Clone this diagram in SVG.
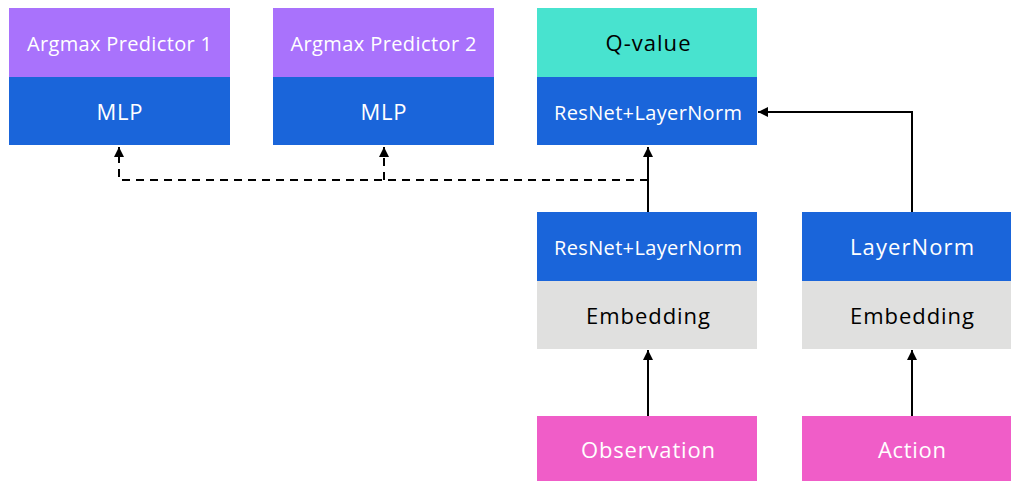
<svg xmlns="http://www.w3.org/2000/svg" width="1011" height="481" viewBox="0 0 1011 481">
<defs>
<marker id="ah" viewBox="0 0 10 10" refX="10" refY="5" markerWidth="10" markerHeight="10" markerUnits="userSpaceOnUse" orient="auto">
<path d="M0,0 L10,5 L0,10 z" fill="#000"/>
</marker>
<style>
.p{fill:#A972FC}.b{fill:#1A65DA}.t{fill:#48E3CF}.g{fill:#E0E0DF}.k{fill:#F05DC8}
text{font-family:"Open Sans","Noto Sans",sans-serif;font-size:20px;text-anchor:middle}
.L{font-size:22px}
.w{fill:#fff}.d{fill:#000}
.c{stroke:#000;stroke-width:2;fill:none}
.dash{stroke-dasharray:8,6}
</style>
</defs>
<rect width="1011" height="481" fill="#fff"/>
<g id="pred1">
<rect class="p" x="9" y="8" width="221" height="69"/>
<rect class="b" x="9" y="77" width="221" height="68"/>
<text class="w" x="119.5" y="51" textLength="185">Argmax Predictor 1</text>
<text class="w L" x="119.5" y="120" textLength="46">MLP</text>
</g>
<g id="pred2">
<rect class="p" x="273" y="8" width="221" height="69"/>
<rect class="b" x="273" y="77" width="221" height="68"/>
<text class="w" x="383.5" y="51" textLength="186">Argmax Predictor 2</text>
<text class="w L" x="383.5" y="120" textLength="46">MLP</text>
</g>
<g id="qvalue">
<rect class="t" x="537" y="8" width="220" height="69"/>
<rect class="b" x="537" y="77" width="220" height="68"/>
<text class="d L" x="648" y="51" textLength="85">Q-value</text>
<text class="w" x="648" y="120" textLength="188">ResNet+LayerNorm</text>
</g>
<g id="obsstack">
<rect class="b" x="537" y="212" width="220" height="69"/>
<rect class="g" x="537" y="281" width="220" height="68"/>
<text class="w" x="648" y="255" textLength="188">ResNet+LayerNorm</text>
<text class="d L" x="648" y="324" textLength="124">Embedding</text>
</g>
<g id="actstack">
<rect class="b" x="802" y="212" width="221" height="69"/>
<rect class="g" x="802" y="281" width="221" height="68"/>
<text class="w L" x="912" y="255" textLength="124">LayerNorm</text>
<text class="d L" x="912" y="324" textLength="124">Embedding</text>
</g>
<g id="observation">
<rect class="k" x="537" y="416" width="220" height="69"/>
<text class="w L" x="648" y="458" textLength="134">Observation</text>
</g>
<g id="action">
<rect class="k" x="802" y="416" width="221" height="69"/>
<text class="w L" x="912" y="458" textLength="68">Action</text>
</g>
<g id="connectors">
<path class="c" d="M648,416 V350" marker-end="url(#ah)"/>
<path class="c" d="M912,416 V350" marker-end="url(#ah)"/>
<path class="c" d="M648,212 V147" marker-end="url(#ah)"/>
<path class="c" d="M912,212 V112 H758" marker-end="url(#ah)"/>
<path class="c dash" d="M648,180 H119 V147" marker-end="url(#ah)"/>
<path class="c dash" d="M384,180 V147" marker-end="url(#ah)"/>
</g>
</svg>
